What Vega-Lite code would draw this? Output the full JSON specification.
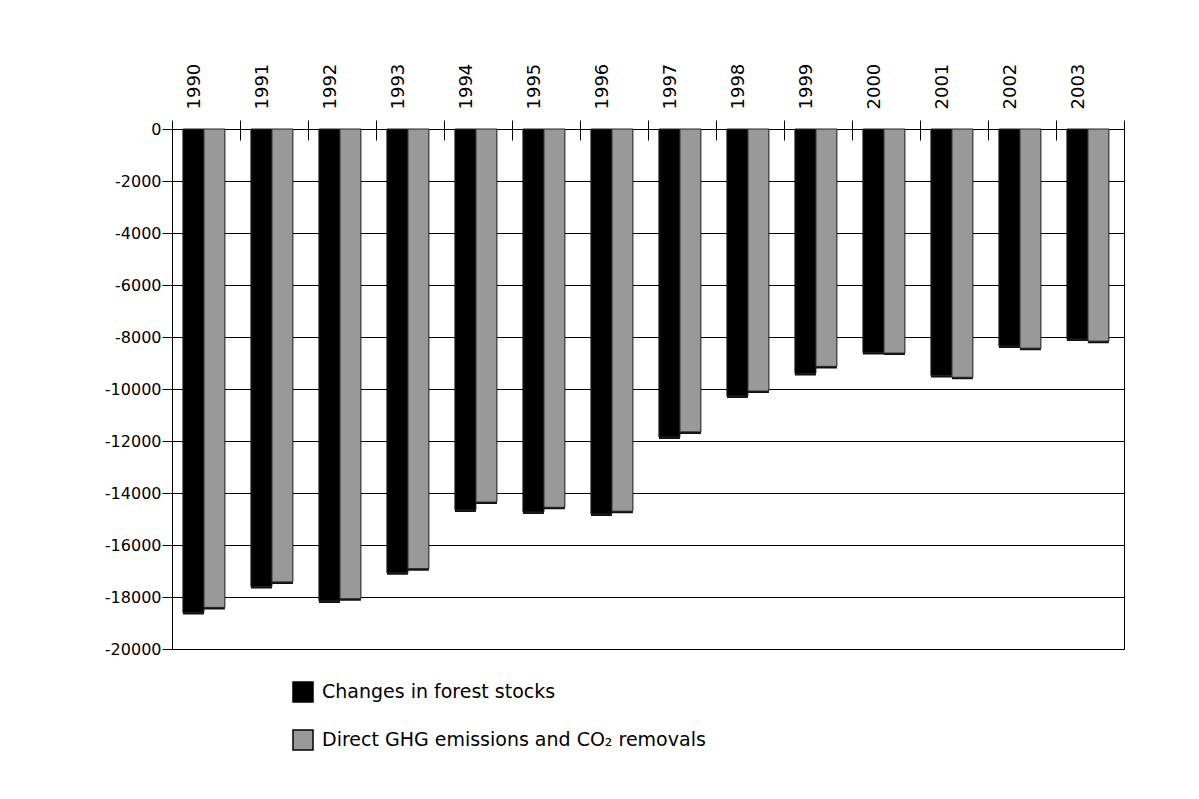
{
  "$schema": "https://vega.github.io/schema/vega-lite/v6.json",
  "width": 952,
  "height": 520,
  "autosize": {"type": "none"},
  "padding": {"left": 172, "top": 129, "right": 75, "bottom": 150},
  "background": "#ffffff",
  "config": {
    "font": "DejaVu Sans",
    "view": {"stroke": "#000000", "strokeWidth": 1}
  },
  "data": {
    "values": [
      {"year": "1990", "series": "Changes in forest stocks", "value": -18600},
      {"year": "1990", "series": "Direct GHG emissions and CO₂ removals", "value": -18400},
      {"year": "1991", "series": "Changes in forest stocks", "value": -17600},
      {"year": "1991", "series": "Direct GHG emissions and CO₂ removals", "value": -17420},
      {"year": "1992", "series": "Changes in forest stocks", "value": -18150},
      {"year": "1992", "series": "Direct GHG emissions and CO₂ removals", "value": -18070},
      {"year": "1993", "series": "Changes in forest stocks", "value": -17070},
      {"year": "1993", "series": "Direct GHG emissions and CO₂ removals", "value": -16910},
      {"year": "1994", "series": "Changes in forest stocks", "value": -14650},
      {"year": "1994", "series": "Direct GHG emissions and CO₂ removals", "value": -14350},
      {"year": "1995", "series": "Changes in forest stocks", "value": -14730},
      {"year": "1995", "series": "Direct GHG emissions and CO₂ removals", "value": -14550},
      {"year": "1996", "series": "Changes in forest stocks", "value": -14810},
      {"year": "1996", "series": "Direct GHG emissions and CO₂ removals", "value": -14700},
      {"year": "1997", "series": "Changes in forest stocks", "value": -11850},
      {"year": "1997", "series": "Direct GHG emissions and CO₂ removals", "value": -11650},
      {"year": "1998", "series": "Changes in forest stocks", "value": -10270},
      {"year": "1998", "series": "Direct GHG emissions and CO₂ removals", "value": -10080},
      {"year": "1999", "series": "Changes in forest stocks", "value": -9400},
      {"year": "1999", "series": "Direct GHG emissions and CO₂ removals", "value": -9130},
      {"year": "2000", "series": "Changes in forest stocks", "value": -8600},
      {"year": "2000", "series": "Direct GHG emissions and CO₂ removals", "value": -8620},
      {"year": "2001", "series": "Changes in forest stocks", "value": -9480},
      {"year": "2001", "series": "Direct GHG emissions and CO₂ removals", "value": -9550},
      {"year": "2002", "series": "Changes in forest stocks", "value": -8350},
      {"year": "2002", "series": "Direct GHG emissions and CO₂ removals", "value": -8430},
      {"year": "2003", "series": "Changes in forest stocks", "value": -8080},
      {"year": "2003", "series": "Direct GHG emissions and CO₂ removals", "value": -8160}
    ]
  },
  "resolve": {"axis": {"x": "independent", "y": "independent"}},
  "layer": [
    {
      "mark": {"type": "bar", "color": "#111111", "xOffset": 2, "x2Offset": 2, "yOffset": 2},
      "encoding": {
        "x": {
          "field": "year", "type": "nominal",
          "scale": {"paddingInner": 0, "paddingOuter": 0},
          "axis": {
            "orient": "top", "title": null, "ticks": false, "domain": false,
            "labelAngle": -90, "labelPadding": 20, "labelOffset": -11,
            "labelFontSize": 18, "labelColor": "#000000"
          }
        },
        "xOffset": {
          "field": "series",
          "scale": {"paddingInner": 0, "paddingOuter": 0.62, "align": 0.42}
        },
        "y": {
          "field": "value", "type": "quantitative",
          "scale": {"domain": [-20000, 0], "nice": false},
          "axis": null
        }
      }
    },
    {
      "mark": {"type": "bar", "stroke": "#222222", "strokeWidth": 1},
      "encoding": {
        "x": {
          "field": "year", "type": "nominal",
          "axis": {
            "orient": "top", "title": null, "labels": false, "domain": false,
            "bandPosition": 1, "tickExtra": true, "tickSize": 20, "offset": -11,
            "tickColor": "#000000", "tickWidth": 1
          }
        },
        "xOffset": {"field": "series"},
        "y": {
          "field": "value", "type": "quantitative",
          "axis": {
            "title": null,
            "values": [0, -2000, -4000, -6000, -8000, -10000, -12000, -14000, -16000, -18000, -20000],
            "labelExpr": "datum.value + ''",
            "labelFontSize": 16, "labelColor": "#000000", "labelPadding": 1,
            "tickSize": 10, "tickColor": "#000000",
            "domainColor": "#000000",
            "grid": true, "gridColor": "#000000", "gridWidth": 1
          }
        },
        "color": {
          "field": "series", "type": "nominal",
          "scale": {
            "domain": ["Changes in forest stocks", "Direct GHG emissions and CO₂ removals"],
            "range": ["#000000", "#999999"]
          },
          "legend": {
            "title": null, "orient": "none", "legendX": 120, "legendY": 552,
            "direction": "vertical",
            "symbolType": "square", "symbolSize": 400,
            "symbolStrokeColor": "#000000", "symbolStrokeWidth": 1.5,
            "labelFontSize": 19, "labelColor": "#000000", "labelOffset": 8,
            "rowPadding": 22, "labelLimit": 700
          }
        }
      }
    }
  ]
}
